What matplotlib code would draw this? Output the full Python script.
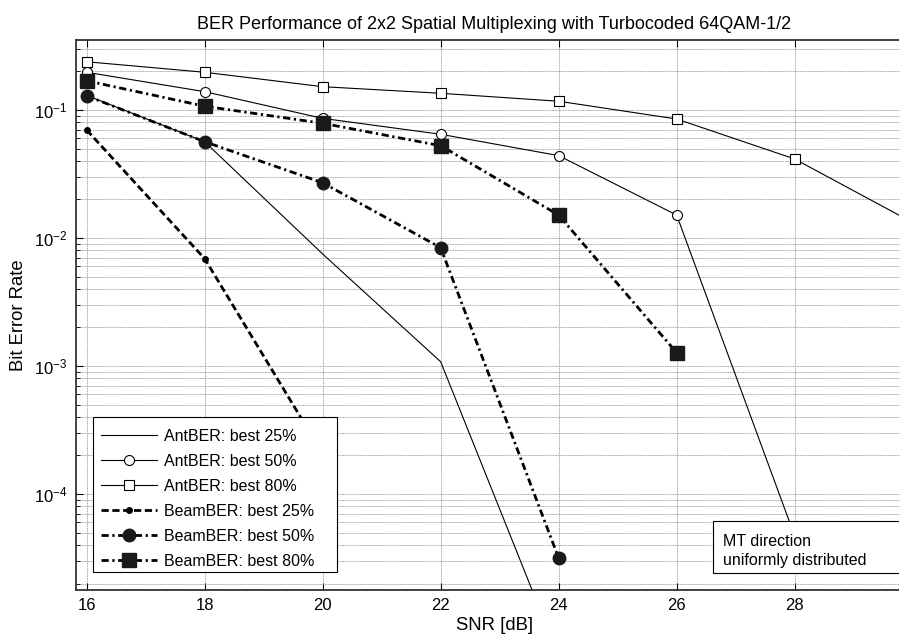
import matplotlib
matplotlib.use("Agg")
import matplotlib.pyplot as plt
from matplotlib.patches import Rectangle
import numpy as np

plt.rcParams['font.family'] = ['Liberation Sans', 'DejaVu Sans']
plt.rcParams['mathtext.fontset'] = 'custom'
plt.rcParams['mathtext.rm'] = 'Liberation Sans'

# data (BER vs SNR)
snr_ant25 = [16, 18, 20, 22, 24]
ber_ant25 = [0.13, 0.0565, 7.5e-3, 1.08e-3, 5.4e-6]

snr_ant50 = [16, 18, 20, 22, 24, 26, 28]
ber_ant50 = [0.197, 0.139, 0.086, 0.0646, 0.044, 0.0151, 4.7e-5]

snr_ant80 = [16, 18, 20, 22, 24, 26, 28, 30]
ber_ant80 = [0.238, 0.197, 0.152, 0.135, 0.117, 0.085, 0.0414, 0.0132]

snr_beam25 = [16, 18, 20]
ber_beam25 = [0.0698, 6.9e-3, 2.07e-4]

snr_beam50 = [16, 18, 20, 22, 24]
ber_beam50 = [0.129, 0.0565, 0.027, 8.4e-3, 3.16e-5]

snr_beam80 = [16, 18, 20, 22, 24, 26]
ber_beam80 = [0.169, 0.107, 0.0787, 0.0526, 0.0151, 1.27e-3]

labels = ['AntBER: best 25%', 'AntBER: best 50%', 'AntBER: best 80%',
          'BeamBER: best 25%', 'BeamBER: best 50%', 'BeamBER: best 80%']

W, H = 899, 639
fig = plt.figure(figsize=(W / 100, H / 100), dpi=100)
ax = fig.add_axes([76 / W, 49 / H, (912.7 - 76) / W, 550 / H])

thin = dict(color='k', lw=0.8)
dashdot = (0, (2.6, 1.3, 0.8, 1.3))

ax.semilogy(snr_ant25, ber_ant25, '-', label=labels[0], **thin)
ax.semilogy(snr_ant50, ber_ant50, '-', marker='o', ms=7.2, mfc='white', mec='k',
            mew=0.8, label=labels[1], **thin)
ax.semilogy(snr_ant80, ber_ant80, '-', marker='s', ms=7.5, mfc='white', mec='k',
            mew=0.8, label=labels[2], **thin)
ax.semilogy(snr_beam25, ber_beam25, linestyle=(0, (2.6, 1.3)), color='k', lw=2,
            marker='o', ms=4, mfc='k', mec='k', label=labels[3])
ax.semilogy(snr_beam50, ber_beam50, linestyle=dashdot, color='k', lw=2,
            marker='o', ms=9, mfc='#1a1a1a', mec='#1a1a1a', label=labels[4])
ax.semilogy(snr_beam80, ber_beam80, linestyle=dashdot, color='k', lw=2,
            marker='s', ms=9.5, mfc='#1a1a1a', mec='#1a1a1a', label=labels[5])

ax.set_xlim(15.82, 30)
ax.set_ylim(1.78e-5, 0.352)
ax.set_xticks(np.arange(16, 30, 2))

ax.grid(True, which='major', axis='x', color='0.5', ls=(0, (1, 1)), lw=0.6)
ax.grid(True, which='both', axis='y', color='0.5', ls=(0, (1, 1)), lw=0.6)
ax.set_axisbelow(True)

ax.tick_params(which='major', direction='in', length=5, top=True, right=True,
               labelsize=12, pad=6)
ax.tick_params(which='minor', direction='in', length=3, right=True)
for s in ax.spines.values():
    s.set_linewidth(1.3)
    s.set_color('#333333')

ax.set_title('BER Performance of 2x2 Spatial Multiplexing with Turbocoded 64QAM-1/2',
             fontsize=13, pad=8)
ax.set_xlabel('SNR [dB]', fontsize=13.3, labelpad=3)
ax.set_ylabel('Bit Error Rate', fontsize=13.3, labelpad=5)

# legend frame drawn by hand so its size matches the reference box
frame = Rectangle((93.3 / W, 1 - 572.3 / H), (337.3 - 93.3) / W, (572.3 - 417) / H,
                  transform=fig.transFigure, fc='white', ec='k', lw=0.8,
                  zorder=4.9, clip_on=False)
ax.add_artist(frame)
leg = ax.legend(loc='upper left', bbox_to_anchor=(101 / W, 1 - 429 / H),
                bbox_transform=fig.transFigure, borderaxespad=0, borderpad=0,
                fontsize=11.5, handlelength=3.5, handletextpad=0.45,
                labelspacing=0.62, numpoints=1, frameon=False)

# annotation box in lower right corner
box = Rectangle((712.7 / W, 1 - 573.3 / H), (905 - 712.7) / W, 52.6 / H,
                transform=fig.transFigure, fc='white', ec='k', lw=0.8,
                zorder=10, clip_on=False)
fig.add_artist(box)
fig.text(722.7 / W, 1 - 551 / H, 'MT direction\nuniformly distributed',
         fontsize=11.5, va='center', ha='left', linespacing=1.3, zorder=11)

fig.savefig('out.png', dpi=100)
